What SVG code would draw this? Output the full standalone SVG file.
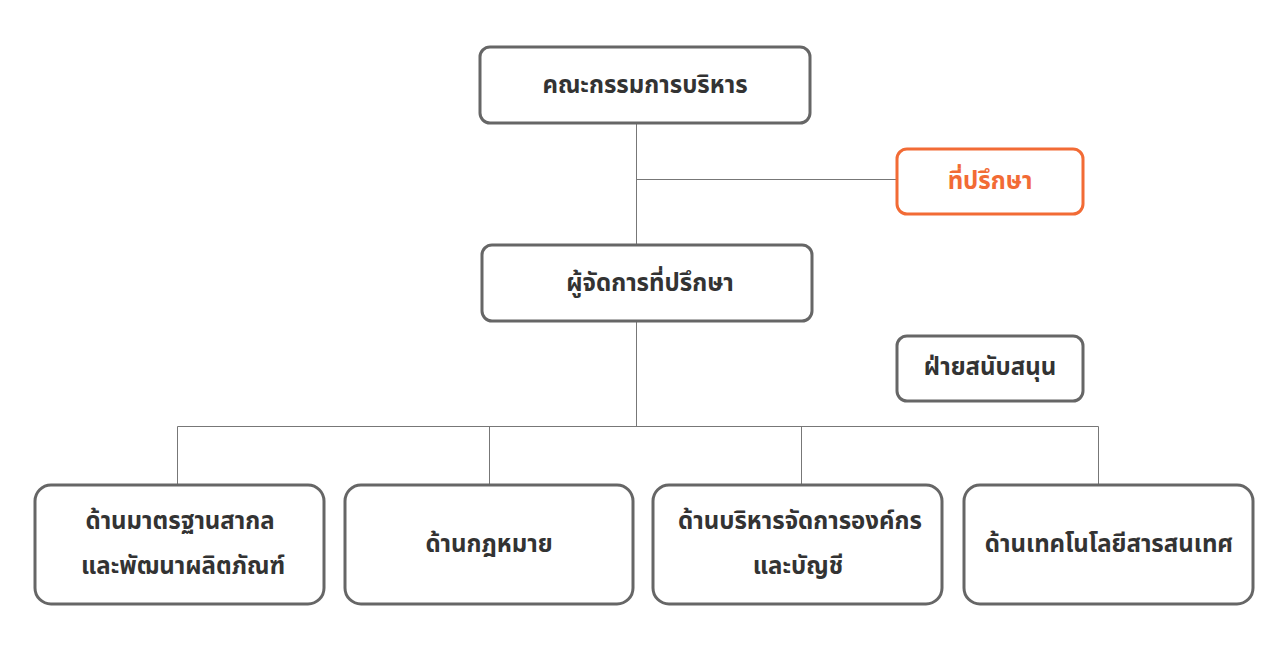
<svg xmlns="http://www.w3.org/2000/svg" width="1280" height="656" viewBox="0 0 1280 656">
<style>
.n{fill:#fff;stroke:#666;stroke-width:3}
.o{fill:#fff;stroke:#f26b35;stroke-width:3}
text{font-family:"Noto Sans Thai","Noto Sans","DejaVu Sans",sans-serif;font-weight:bold;font-size:24px;fill:#333;text-anchor:middle;dominant-baseline:central}
.c{stroke:#777;stroke-width:1;fill:none}
</style>
<rect width="1280" height="656" fill="#fff"/>
<g id="connectors">
<path class="c" d="M636.5 123V245M636.5 179.5H897M636.5 321V426.5M177.5 426.5H1098.5M177.5 426.5V485M489.5 426.5V485M801.5 426.5V485M1098.5 426.5V485"/>
</g>
<g id="board"><rect class="n" x="480" y="47" width="330" height="76" rx="10"/><text x="645" y="86">คณะกรรมการบริหาร</text></g>
<g id="advisor"><rect class="o" x="897" y="149" width="186" height="65" rx="10"/><text x="990" y="182" style="fill:#f26b35">ที่ปรึกษา</text></g>
<g id="manager"><rect class="n" x="482" y="245" width="330" height="76" rx="10"/><text x="650" y="284">ผู้จัดการที่ปรึกษา</text></g>
<g id="support"><rect class="n" x="897" y="336" width="186" height="65" rx="10"/><text x="990" y="368">ฝ่ายสนับสนุน</text></g>
<g id="d1"><rect class="n" x="35" y="485" width="289" height="119" rx="16"/><text x="180" y="522">ด้านมาตรฐานสากล</text><text x="183" y="567">และพัฒนาผลิตภัณฑ์</text></g>
<g id="d2"><rect class="n" x="345" y="485" width="288" height="119" rx="16"/><text x="489" y="545">ด้านกฎหมาย</text></g>
<g id="d3"><rect class="n" x="653" y="485" width="289" height="119" rx="16"/><text x="800" y="522">ด้านบริหารจัดการองค์กร</text><text x="798" y="567">และบัญชี</text></g>
<g id="d4"><rect class="n" x="964" y="485" width="289" height="119" rx="16"/><text x="1109" y="545">ด้านเทคโนโลยีสารสนเทศ</text></g>
</svg>
